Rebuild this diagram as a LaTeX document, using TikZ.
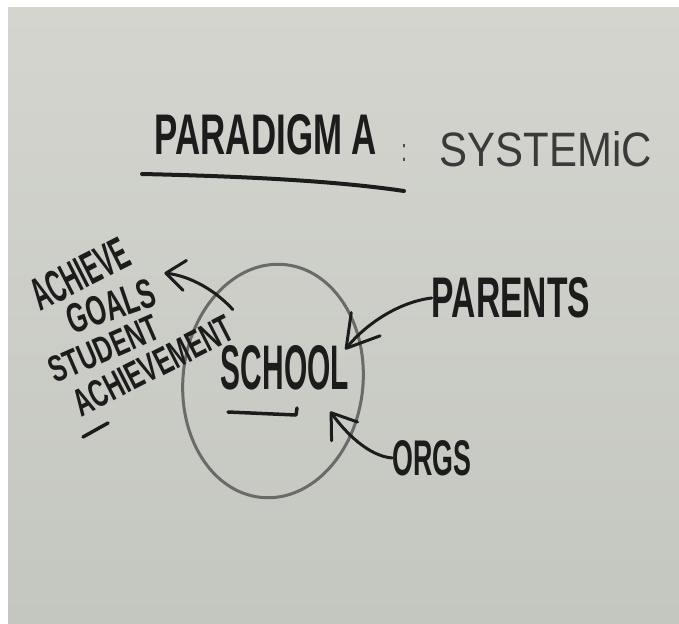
\documentclass[tikz,border=0pt]{standalone}
\usepackage{fontspec}
\setmainfont{Liberation Sans}
\usepackage{graphicx}
\usetikzlibrary{arrows.meta,shapes.geometric}
\definecolor{boardLight}{HTML}{D4D5CF}
\definecolor{boardDark}{HTML}{C4C6C0}
\definecolor{markerBlack}{HTML}{1C1C1C}
\definecolor{markerFaint}{HTML}{3A3A3A}
\definecolor{ringGrey}{HTML}{6A6A68}
\newcommand{\scrawl}[3]{\resizebox{#1pt}{#2pt}{#3}}

\begin{document}
\begin{tikzpicture}[x=1pt, y=-1pt,
  hand/.style={inner sep=0pt, text=markerBlack, font=\bfseries},
  faint/.style={inner sep=0pt, text=markerFaint},
  inkline/.style={draw=markerBlack, line width=3.5pt, line cap=round, line join=round},
  arr/.style 2 args={inkline, line width=3pt, -{Straight Barb[round, length=#1pt, width=#2pt]}}]
  % the board
  \fill[white] (0,0) rectangle (679,623);
  \shade[top color=boardLight, bottom color=boardDark] (8,8) rectangle (679,623);
  % heading
  \node[hand] (title) at (266,135) {\scrawl{222}{40}{PARADIGM A}};
  \node[faint] (colon) at (404,153) {\scrawl{5}{17}{:}};
  \node[faint] (systemic) at (546,149) {\scrawl{212}{35}{SYSTEMiC}};
  \draw[inkline, line width=4pt] (142,174) .. controls (230,176) and (330,180) .. (404,191);
  % the school
  \node[draw=ringGrey, line width=3pt, ellipse, minimum width=180pt, minimum height=234pt, rotate=-6] (ring) at (273,381) {};
  \node[hand] (school) at (285,368) {\scrawl{128}{44}{SCHOOL}};
  \draw[inkline] (228,412) -- (296,415) -- (297,408);
  % left side
  \node[hand, rotate=27] (achieve) at (80,274) {\scrawl{105}{32}{ACHIEVE}};
  \node[hand, rotate=19] (goals) at (111,306) {\scrawl{91}{29}{GOALS}};
  \node[hand, rotate=23.5] (student) at (104,349) {\scrawl{116}{26}{STUDENT}};
  \node[hand, rotate=27] (achievement) at (153,366) {\scrawl{175}{27}{ACHIEVEMENT}};
  \draw[inkline] (83,437) -- (108,423);
  % right side
  \node[hand] (parents) at (511,298) {\scrawl{158}{40}{PARENTS}};
  \node[hand] (orgs) at (432,458) {\scrawl{79}{35}{ORGS}};
  % arrows
  \draw[arr={19}{30}] ([shift={(12,-36)}]school.north west) .. controls (215,290) and (190,276) .. ([shift={(15,-4)}]goals.north east);
  \draw[arr={31}{37}] (parents.west) .. controls (398,302) and (365,325) .. ([shift={(-4,4)}]school.north east);
  \draw[arr={23}{32}] (orgs.west) .. controls (368,456) and (345,432) .. ([shift={(-19,21)}]school.south east);
\end{tikzpicture}
\end{document}
